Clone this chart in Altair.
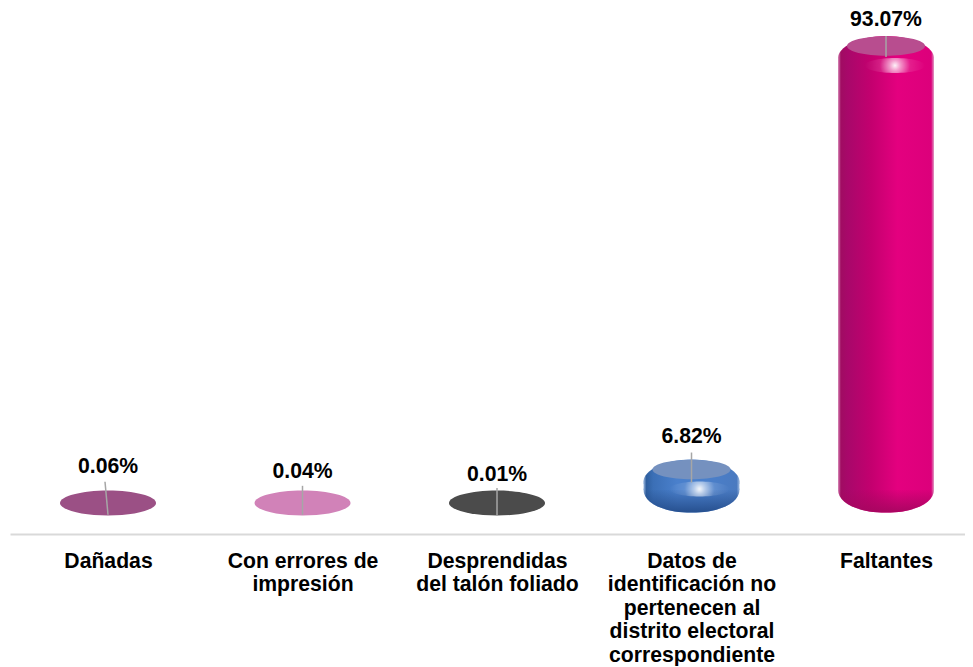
import altair as alt
import pandas as pd

categories = ["Dañadas", "Con errores de impresión", "Desprendidas del talón foliado",
              "Datos de identificación no pertenecen al distrito electoral correspondiente", "Faltantes"]
axis_lines = ["Dañadas", "Con errores de|impresión", "Desprendidas|del talón foliado",
              "Datos de|identificación no|pertenecen al|distrito electoral|correspondiente", "Faltantes"]
values = [0.06, 0.04, 0.01, 6.82, 93.07]
value_labels = ["0.06%", "0.04%", "0.01%", "6.82%", "93.07%"]
flat_colors = ["#9b5085", "#d182b8", "#4b4b4b", "#7591bf", "#b84d8f"]

# drawing parameters, per category
label_dy = [-36, -31, -28, -33, -26]
leader_up = [-21, -17, -15, -17, -10]
leader_down = [12, 12, 12, 13, 11]
leader_tilt = [-3, 0, 0, 0, 0]
body_stops = {
    3: ["#9db9df", "#2f5f9f", "#3b6fb6", "#4a80cc", "#4a80cc", "#4a7ac0", "#9db9df"],
    4: ["#d88ab8", "#a00c62", "#a8086a", "#c4006f", "#e4007f", "#dc007b", "#e09ac4"],
}
base_shade = {3: "#244c8a", 4: "#a5065f"}
shine = {3: 8, 4: 9}
stop_offsets = [0, 0.03, 0.1, 0.35, 0.62, 0.97, 1]

TOP_CAP = "M -1 0.24 C -1 0.04 -0.6 -0.21 0 -0.21 C 0.6 -0.21 1 0.04 1 0.24 L 1 0.3 L -1 0.3 Z"
BOTTOM_CAP = "M -1 -0.3 L 1 -0.3 L 1 -0.27 C 1 -0.02 0.62 0.2 0 0.2 C -0.62 0.2 -1 -0.02 -1 -0.27 Z"
FLAT_DISC = "M -1 0 C -1 -0.14 -0.55 -0.26 0 -0.26 C 0.55 -0.26 1 -0.14 1 0 C 1 0.14 0.55 0.26 0 0.26 C -0.55 0.26 -1 0.14 -1 0 Z"
TOP_FLAT = "M -1 0 C -1 -0.138 -0.55 -0.25 0 -0.25 C 0.55 -0.25 1 -0.138 1 0 C 1 0.138 0.55 0.25 0 0.25 C -0.55 0.25 -1 0.138 -1 0 Z"
SHINE = TOP_FLAT

x_enc = alt.X("cat:N", sort=categories, title=None,
              scale=alt.Scale(type="point", domain=categories, range=[2, 957], padding=0.455, align=0.5537),
              axis=alt.Axis(labelExpr="split({" + ",".join(
                  f"'{c}':'{a}'" for c, a in zip(categories, axis_lines)) + "}[datum.value], '|')",
                  labelAngle=0, labelAlign="center", labelBaseline="top", labelFont="Liberation Sans",
                  labelFontWeight="bold", labelFontSize=21.2, labelLineHeight=23.6, labelColor="#000000",
                  labelPadding=16, labelLimit=0, ticks=False, grid=False, domain=True,
                  domainColor="#d9d9d9", domainWidth=2))
y_enc = alt.Y("v:Q", title=None, axis=None, scale=alt.Scale(domain=[-6.31, 100.81], nice=False, zero=False))

layers = []
axis_df = pd.DataFrame({"cat": categories, "v": values})
layers.append(alt.Chart(axis_df).mark_point(opacity=0).encode(x=x_enc, y=y_enc))


def grad(colors):
    return alt.LinearGradient(gradient="linear", x1=0, y1=0, x2=1, y2=0,
                              stops=[alt.GradientStop(offset=o, color=c) for o, c in zip(stop_offsets, colors)])


x_plain = alt.X("cat:N", sort=categories)
y_plain = alt.Y("v:Q")

for i, cat in enumerate(categories):
    row = pd.DataFrame({"cat": [cat], "v": [values[i]], "b": [0.0], "label": [value_labels[i]]})
    base = alt.Chart(row)
    if i in body_stops:
        g = grad(body_stops[i])
        layers.append(base.mark_point(filled=True, opacity=1, shape=BOTTOM_CAP, size=9216, fill=g, strokeWidth=0)
                      .encode(x=x_plain, y=alt.Y("b:Q")))
        shade = alt.LinearGradient(gradient="linear", x1=0, y1=0, x2=0, y2=1, stops=[
            alt.GradientStop(offset=0, color=base_shade[i] + "00"),
            alt.GradientStop(offset=1, color=base_shade[i] + "ee")])
        layers.append(base.mark_point(filled=True, opacity=1, shape=BOTTOM_CAP, size=9216, fill=shade, strokeWidth=0)
                      .encode(x=x_plain, y=alt.Y("b:Q")))
        layers.append(base.mark_bar(width=96, fill=g, yOffset=11, y2Offset=-13, strokeWidth=0)
                      .encode(x=x_plain, y=y_plain, y2=alt.Y2("b:Q")))
        layers.append(base.mark_point(filled=True, opacity=1, shape=TOP_CAP, size=9216, fill=g, strokeWidth=0)
                      .encode(x=x_plain, y=y_plain))
        layers.append(base.mark_point(filled=True, opacity=1, shape=TOP_FLAT, size=6084,
                                      fill=flat_colors[i], strokeWidth=0)
                      .encode(x=x_plain, y=y_plain))
        glow = alt.RadialGradient(gradient="radial", stops=[
            alt.GradientStop(offset=0, color="rgba(255,255,255,0.95)"),
            alt.GradientStop(offset=0.18, color="rgba(255,255,255,0.6)"),
            alt.GradientStop(offset=0.5, color="rgba(255,255,255,0.12)"),
            alt.GradientStop(offset=1, color="rgba(255,255,255,0)")])
        layers.append(base.mark_point(filled=True, opacity=1, shape=SHINE, size=3600, fill=glow, strokeWidth=0,
                                      xOffset=shine[i], yOffset=19.5)
                      .encode(x=x_plain, y=y_plain))
    else:
        layers.append(base.mark_point(filled=True, opacity=1, shape=FLAT_DISC, size=9216,
                                      fill=flat_colors[i], strokeWidth=0)
                      .encode(x=x_plain, y=alt.Y("b:Q")))
    layers.append(base.mark_rule(color="#a6a6a6", strokeWidth=1.5, xOffset=leader_tilt[i], x2Offset=0,
                                 yOffset=leader_up[i], y2Offset=leader_down[i])
                  .encode(x=x_plain, x2=alt.X2("cat:N"), y=y_plain, y2=alt.Y2("v:Q")))
    layers.append(base.mark_text(font="Liberation Sans", fontWeight="bold", fontSize=21.2, color="#000000",
                                 dy=label_dy[i], baseline="middle", align="center")
                  .encode(x=x_plain, y=y_plain, text="label:N"))

chart = alt.layer(*layers).properties(width=957, height=526, padding=0, background="#ffffff") \
    .configure_view(stroke=None)
chart.save("out.html", embed_options={"renderer": "svg", "actions": False})
